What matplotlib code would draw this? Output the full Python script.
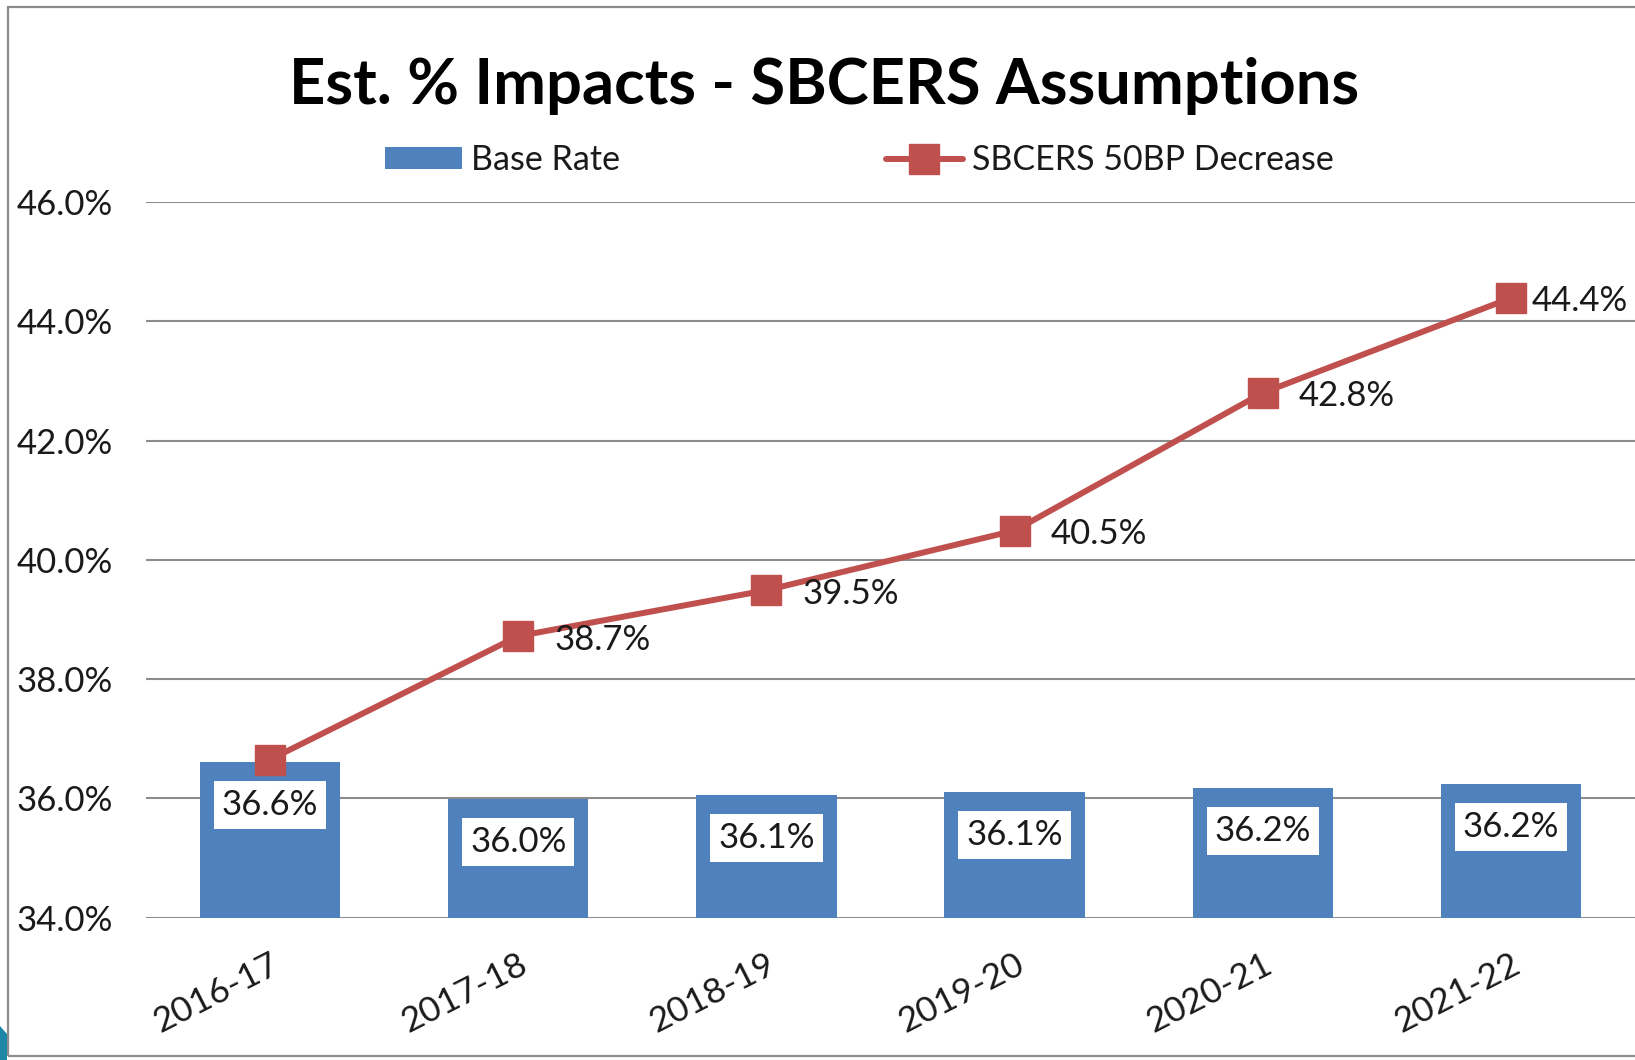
import matplotlib
matplotlib.use("Agg")
import matplotlib.pyplot as plt
from matplotlib.patches import Rectangle, Polygon
from matplotlib.ticker import FuncFormatter

# ---- data ----
categories = ["2016-17", "2017-18", "2018-19", "2019-20", "2020-21", "2021-22"]
base_rate = [36.61, 35.99, 36.06, 36.10, 36.17, 36.24]
sbcers_50bp = [36.65, 38.72, 39.49, 40.49, 42.80, 44.39]
yticks = [34, 36, 38, 40, 42, 44, 46]
title = "Est. % Impacts - SBCERS Assumptions"
legend_labels = ["Base Rate", "SBCERS 50BP Decrease"]

BLUE = "#4F81BD"
RED = "#C0504D"
GRID = "#8C8C8C"
TXT = "#1a1a1a"
FONT = "Lato"

W, H = 1635, 1060
fig = plt.figure(figsize=(W / 100, H / 100), dpi=100)
fig.patch.set_facecolor("white")

ax = fig.add_axes([146 / W, 1 - 917.6 / H, (W - 146) / W, (917.6 - 202) / H])
x = list(range(len(categories)))

bars = ax.bar(x, base_rate, width=0.565, color=BLUE, zorder=2, label=legend_labels[0])
line, = ax.plot(x, sbcers_50bp, color=RED, lw=4.3, marker="s", markersize=21.5,
                zorder=4, label=legend_labels[1], solid_capstyle="round")

ax.set_xlim(-0.5, len(categories) - 0.5)
ax.set_ylim(yticks[0], yticks[-1])
ax.set_yticks(yticks)
ax.yaxis.set_major_formatter(FuncFormatter(lambda v, p: f"{v:.1f}%"))
ax.grid(axis="y", color=GRID, lw=1.5, zorder=0)
ax.set_axisbelow(True)
for s in ax.spines.values():
    s.set_visible(False)
ax.tick_params(axis="both", length=0)
ax.tick_params(axis="y", pad=24, labelsize=25, labelcolor=TXT)
ax.set_xticks(x)
ax.set_xticklabels(categories, rotation=27, ha="right", va="top",
                   rotation_mode="anchor", fontsize=25.5, color=TXT)
ax.tick_params(axis="x", pad=22)
for lbl in ax.get_xticklabels() + ax.get_yticklabels():
    lbl.set_fontfamily(FONT)

# bar labels in white boxes
for xi, v in zip(x, base_rate):
    ax.annotate(f"{v:.1f}%", (xi, v), xytext=(0, -31), textcoords="offset points",
                ha="center", va="center", fontsize=25, family=FONT, color=TXT,
                zorder=5,
                bbox=dict(boxstyle="square,pad=0.23", fc="white", ec="none"))

# line labels (first point shares the bar label; last one sits tight to its marker)
n = len(sbcers_50bp)
for i in range(1, n):
    dx = 26 if i < n - 1 else 15
    ax.annotate(f"{sbcers_50bp[i]:.1f}%", (x[i], sbcers_50bp[i]), xytext=(dx, -2.5),
                textcoords="offset points", ha="left", va="center", fontsize=25,
                family=FONT, color=TXT, zorder=5, annotation_clip=False)

# title
fig.text(824 / W, 1 - 104 / H, title, ha="center", va="baseline",
         fontsize=45.5, fontweight="bold", family=FONT, color="black")

# legend
leg = fig.legend(handles=[bars, line], labels=legend_labels, loc="center left",
                 bbox_to_anchor=(385 / W, 1 - 160 / H), ncol=2, frameon=False,
                 borderpad=0, borderaxespad=0, handlelength=2.27, handleheight=0.6,
                 handletextpad=0.26, columnspacing=7.8,
                 prop={"family": FONT, "size": 24.5})
for t in leg.get_texts():
    t.set_color(TXT)

# chart border and slide decoration
fig.add_artist(Rectangle((8 / W, 1 - 1056 / H), 2, (1056 - 7) / H,
                         transform=fig.transFigure, fill=False, ec=GRID, lw=1.6))
fig.add_artist(Polygon([(0, 0), (7 / W, 0), (7 / W, 1 - 1034 / H), (0, 1 - 1026 / H)],
                       closed=True, transform=fig.transFigure, fc="#1E86A6", ec="none"))

fig.savefig("out.png", dpi=100, facecolor="white")
